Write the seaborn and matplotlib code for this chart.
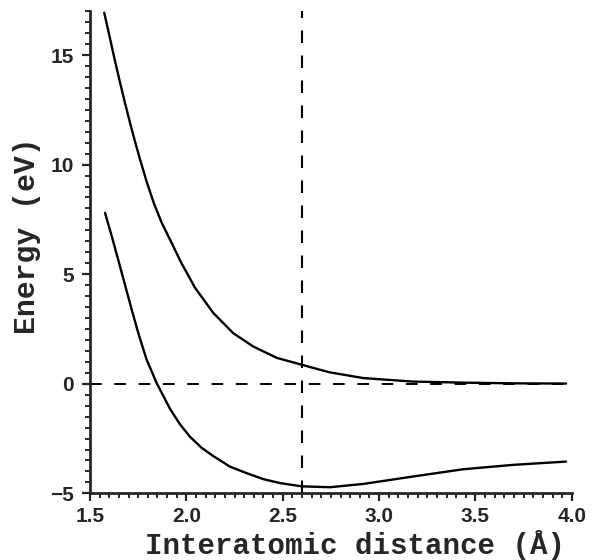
import matplotlib
matplotlib.use("Agg")
import numpy as np
import pandas as pd
import matplotlib.pyplot as plt
import seaborn as sns
from matplotlib.ticker import MultipleLocator

# --- data ---
upper_r = [1.574, 1.604, 1.630, 1.656, 1.682, 1.707, 1.733, 1.759, 1.794, 1.833,
           1.872, 1.924, 1.970, 2.045, 2.140, 2.243, 2.347, 2.470,
           2.590, 2.693, 2.745, 2.918, 3.175, 3.45, 3.70, 3.97]
upper_e = [16.93, 15.75, 14.72, 13.74, 12.80, 11.93, 11.07, 10.26, 9.22, 8.20,
           7.35, 6.42, 5.58, 4.38, 3.23, 2.31, 1.70, 1.18,
           0.89, 0.64, 0.52, 0.26, 0.10, 0.05, 0.02, 0.01]

lower_r = [1.578, 1.613, 1.647, 1.682, 1.716, 1.751, 1.794, 1.846, 1.889, 1.915,
           1.967, 2.019, 2.079, 2.140, 2.226, 2.313, 2.399, 2.485, 2.598, 2.745,
           2.918, 3.177, 3.436, 3.695, 3.97]
lower_e = [7.80, 6.73, 5.64, 4.50, 3.40, 2.30, 1.10, 0.03, -0.70, -1.14,
           -1.85, -2.42, -2.92, -3.30, -3.78, -4.08, -4.35, -4.53, -4.68, -4.72,
           -4.57, -4.23, -3.90, -3.70, -3.55]

r_eq = 2.6
zero_e = 0.0

df = pd.concat([
    pd.DataFrame({"r": upper_r, "E": upper_e, "state": "upper"}),
    pd.DataFrame({"r": lower_r, "E": lower_e, "state": "lower"}),
])

sns.set_style("ticks")
plt.rcParams['font.family'] = ['Liberation Sans', 'DejaVu Sans']

fig = plt.figure(figsize=(5.92, 5.60), dpi=100)
ax = fig.add_axes([0.152, 0.119, 0.814, 0.861])

sns.lineplot(data=df, x="r", y="E", units="state", estimator=None,
             color="black", linewidth=1.7, sort=False, ax=ax)
for ln in ax.get_lines():
    ln.set_solid_joinstyle("round")

ax.axhline(zero_e, color="black", linewidth=1.4, dashes=(6, 6.5))
ax.axvline(r_eq, color="black", linewidth=1.5, dashes=(6, 6))

ax.set_xlim(1.5, 4.0)
ax.set_ylim(-5, 17)
ax.xaxis.set_minor_locator(MultipleLocator(0.05))
ax.yaxis.set_minor_locator(MultipleLocator(0.5))
ax.set_xticks([1.5, 2.0, 2.5, 3.0, 3.5, 4.0])
ax.set_xticklabels(["1.5", "2.0", "2.5", "3.0", "3.5", "4.0"])
ax.set_yticks([-5, 0, 5, 10, 15])
ax.set_yticklabels(["\u22125", "0", "5", "10", "15"])

ax.tick_params(which="major", direction="out", length=5.5, width=1.6,
               labelsize=15, pad=4)
ax.tick_params(axis="y", which="major", pad=6)
ax.tick_params(which="minor", direction="out", length=3.5, width=1.4)
for lab in ax.get_xticklabels() + ax.get_yticklabels():
    lab.set_fontweight("heavy")

sns.despine(ax=ax)
for side in ("left", "bottom"):
    ax.spines[side].set_linewidth(2.0)

ax.set_xlabel("Interatomic distance (\u00c5)", family=["Liberation Mono", "DejaVu Sans Mono"],
              fontsize=21, fontweight="bold")
ax.set_ylabel("Energy (eV)", family=["Liberation Mono", "DejaVu Sans Mono"],
              fontsize=21.5, fontweight="bold")
ax.xaxis.set_label_coords(0.55, -0.108)
ax.yaxis.set_label_coords(-0.131, 0.534)
ax.xaxis.label.set_verticalalignment("center")
ax.yaxis.label.set_verticalalignment("center")

fig.savefig("out.png", dpi=100)
